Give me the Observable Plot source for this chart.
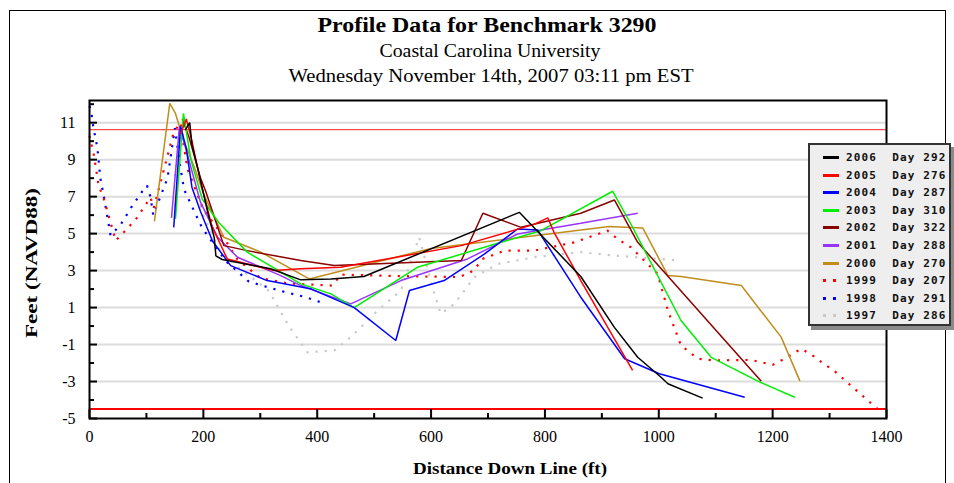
<!DOCTYPE html>
<html><head><meta charset="utf-8">
<script src="https://cdn.jsdelivr.net/npm/d3@7"></script>
<script src="https://cdn.jsdelivr.net/npm/@observablehq/plot@0.6"></script>
<style>
body{margin:0;background:#fff;}
#wrap{position:relative;width:954px;height:483px;overflow:hidden;background:#fff;}
#border{position:absolute;left:9px;top:10px;width:937px;height:520px;border:1px solid #000;box-sizing:border-box;}
#chart{position:absolute;left:0;top:0;}
#texts{position:absolute;left:0;top:0;}
#legend{position:absolute;left:808px;top:143px;width:143px;height:183px;background:#eeeeee;border:2px solid #333;box-sizing:border-box;box-shadow:3px 4px 0 #8a8a8a;font-family:"DejaVu Sans Mono",monospace;font-weight:bold;font-size:11px;letter-spacing:1.1px;color:#111;}
.row{position:absolute;left:0;height:17px;line-height:17px;white-space:pre;}
</style></head>
<body>
<div id="wrap">
  <div id="border"></div>
  <div id="chart"></div>
  <svg id="texts" width="954" height="483"></svg>
  <div id="legend"></div>
</div>
<script>
// ---- data ----
const years = ["2006","2005","2004","2003","2002","2001","2000","1999","1998","1997"];
const days  = [292, 276, 287, 310, 322, 288, 270, 207, 291, 286];
const colors = ["#000000","#ff0000","#0000ff","#00ee00","#8b0000","#9933ff","#c08d1a","#ff0000","#0000ff","#c8c8c8"];
const dotted = [false,false,false,false,false,false,false,true,true,true];

const p2006 = [[168,10.6],[176,11.0],[180,9.8],[192,8.3],[207,6.24],[219,4.8],[222,3.8],[233,3.6],[318,3.1],[371,2.5],[424,2.55],[482,2.68],[755,6.15],[863,2.68],[922,-0.07],[963,-1.69],[1004,-2.77],[1016,-3.12],[1077,-3.9]];
const p2005 = [[160,10.4],[170,11.2],[180,10.0],[195,7.8],[215,5.4],[242,3.63],[324,3.0],[371,3.1],[441,3.18],[653,4.35],[781,5.5],[805,5.85],[816,5.07],[863,2.46],[922,-0.69],[954,-2.4]];
const p2004 = [[148,5.34],[160,10.8],[170,9.6],[180,7.5],[195,6.2],[216,4.6],[248,3.27],[312,2.46],[390,2.0],[465,1.0],[538,-0.78],[562,1.92],[623,2.46],[694,3.9],[752,5.25],[787,5.2],[863,1.56],[940,-1.77],[1001,-2.58],[1151,-3.85]];
const p2003 = [[151,5.8],[165,11.5],[178,9.0],[198,6.87],[227,5.6],[277,4.0],[371,2.28],[424,1.74],[465,1.0],[576,3.18],[723,4.53],[793,5.16],[919,7.29],[951,5.52],[1039,0.3],[1092,-1.69],[1174,-2.98],[1239,-3.85]];
const p2002 = [[163,11.2],[175,10.2],[195,8.0],[204,7.3],[236,4.35],[277,4.08],[371,3.54],[430,3.27],[653,3.54],[691,6.1],[758,5.34],[863,6.1],[922,6.82],[963,4.53],[1180,-2.98]];
const p2001 = [[144,5.85],[158,10.8],[170,9.5],[195,6.7],[225,4.8],[260,3.72],[336,2.73],[371,2.19],[459,1.2],[547,2.46],[664,3.63],[752,4.98],[863,5.56],[963,6.1]];
const p2000 = [[114,5.66],[141,12.04],[151,11.5],[166,10.0],[184,8.6],[201,7.1],[222,5.7],[236,4.8],[301,4.0],[386,2.55],[600,4.2],[913,5.38],[972,5.3],[1016,2.73],[1039,2.68],[1145,2.19],[1215,-0.6],[1248,-2.98]];
const p1999 = [[0,10.3],[2,10.0],[8,9.2],[16,7.6],[25,6.9],[46,4.62],[63,5.16],[84,5.88],[107,6.96],[113,6.4],[134,8.85],[148,10.5],[160,11.0],[172,8.5],[200,6.3],[230,5.07],[260,3.6],[300,2.6],[350,2.3],[427,2.19],[441,2.78],[550,2.7],[650,2.65],[675,3.0],[690,3.63],[729,4.08],[781,4.08],[852,4.53],[910,5.16],[928,4.7],[951,4.26],[998,2.82],[1016,0.84],[1039,-1.05],[1069,-1.77],[1098,-1.86],[1162,-1.83],[1200,-2.1],[1221,-1.77],[1250,-1.23],[1268,-1.54],[1286,-1.96],[1309,-2.44],[1344,-3.4],[1376,-4.26],[1394,-4.75]];
const p1998 = [[0,11.9],[3,11.6],[7,10.7],[11,10.1],[14,9.6],[19,8.0],[25,7.05],[37,4.9],[55,5.5],[75,6.5],[93,7.3],[101,7.6],[107,7.0],[112,6.0],[137,8.0],[150,10.7],[160,8.5],[166,7.4],[178,6.6],[198,5.3],[240,3.5],[280,2.4],[336,1.9],[380,1.56],[405,1.3]];
const p1997 = [[150,8.1],[160,10.2],[175,8.5],[200,6.0],[230,4.0],[260,3.2],[292,2.46],[315,1.9],[350,0.0],[383,-1.42],[430,-1.32],[459,-0.6],[506,0.84],[547,1.92],[579,4.8],[606,1.74],[617,0.66],[641,1.2],[676,2.64],[717,3.36],[781,3.72],[863,4.0],[922,3.81],[981,3.68],[1039,3.54]];
const seriesPoints = [p2006,p2005,p2004,p2003,p2002,p2001,p2000,p1999,p1998,p1997];

const xMajor = [0,200,400,600,800,1000,1200,1400];
const xMinor = [100,300,500,700,900,1100,1300];
const yMajor = [11,9,7,5,3,1,-1,-3,-5];
const yMinor = [12,10,8,6,4,2,0,-2,-4];
const gridVals = [11,9,7,5,3,1,-1,-3];
const benchmarkLevel = [10.62];
const lowLevel = [-4.48];

// ---- chart ----
const lineMarks = [];
for (let i = seriesPoints.length - 1; i >= 0; i--) {
  const data = seriesPoints[i].map(([x, y]) => ({x, y}));
  lineMarks.push(Plot.line(data, {
    x: "x", y: "y", stroke: colors[i],
    strokeWidth: dotted[i] ? 2.2 : 1.5,
    strokeDasharray: dotted[i] ? "2.2,7" : null,
    strokeLinejoin: "miter", strokeLinecap: "butt"
  }));
}
const W = 954, H = 483, mL = 89, mR = 68, mT = 100, mB = 65;
const pw = W - mL - mR, ph = H - mT - mB;
const chart = Plot.plot({
  width: W, height: H,
  marginLeft: mL, marginRight: mR, marginTop: mT, marginBottom: mB,
  x: {domain: [0, 1400]},
  y: {domain: [-5, 12.2]},
  style: {fontFamily: "'Liberation Serif', serif", fontSize: "16px", color: "#000", background: "transparent", overflow: "visible"},
  marks: [
    Plot.ruleY(gridVals, {stroke: "#dcdcdc", strokeWidth: 2}),
    Plot.ruleY(benchmarkLevel, {stroke: "#ff2020", strokeWidth: 1}),
    Plot.ruleY(lowLevel, {stroke: "#ff0000", strokeWidth: 2}),
    ...lineMarks,
    Plot.ruleY(yMajor, {stroke: "#000", strokeWidth: 2, insetRight: pw - 8}),
    Plot.ruleY(yMinor, {stroke: "#000", strokeWidth: 2, insetRight: pw - 5}),
    Plot.ruleX(xMajor, {stroke: "#000", strokeWidth: 2, insetTop: ph - 9}),
    Plot.ruleX(xMinor, {stroke: "#000", strokeWidth: 2, insetTop: ph - 5}),
    Plot.frame({stroke: "#000", strokeWidth: 2}),
    Plot.axisX({ticks: xMajor, tickSize: 0, tickPadding: 12, label: null, fontSize: 16, tickFormat: d => String(d)}),
    Plot.axisY({ticks: yMajor, tickSize: 0, tickPadding: 14, label: null, fontSize: 16, tickFormat: d => String(d)})
  ]
});
document.getElementById("chart").appendChild(chart);

// ---- texts ----
const svg = d3.select("#texts");
const addText = (t, x, y, size, bold, len, rot) => {
  const el = svg.append("text").text(t)
    .attr("x", x).attr("y", y)
    .attr("text-anchor", "middle")
    .attr("font-family", "'Liberation Serif', serif")
    .attr("font-size", size)
    .attr("font-weight", bold ? "bold" : "normal")
    .attr("fill", "#000");
  if (len) el.attr("textLength", len).attr("lengthAdjust", "spacingAndGlyphs");
  if (rot) el.attr("transform", `rotate(-90 ${x} ${y})`);
};
addText("Profile Data for Benchmark 3290", 487, 32, 21, true, 339);
addText("Coastal Carolina University", 490, 57, 18, false, 221);
addText("Wednesday November 14th, 2007 03:11 pm EST", 491, 82, 18, false, 405);
addText("Distance Down Line (ft)", 510, 474, 17, true, 194);
addText("Feet (NAVD88)", 37, 263, 17, true, 150, true);

// ---- legend ----
const legend = d3.select("#legend");
years.forEach((yr, i) => {
  const row = legend.append("div").attr("class", "row").style("top", (4 + i * 17.6) + "px");
  const sw = row.append("svg").attr("width", 36).attr("height", 17)
    .style("vertical-align", "top").style("display", "inline-block");
  sw.append("line").attr("x1", 13).attr("x2", 29).attr("y1", 8.5).attr("y2", 8.5)
    .attr("stroke", colors[i]).attr("stroke-width", 3)
    .attr("stroke-dasharray", dotted[i] ? "3,7" : null);
  row.append("span").text(`${yr}  Day ${days[i]}`);
});
</script>
</body></html>
